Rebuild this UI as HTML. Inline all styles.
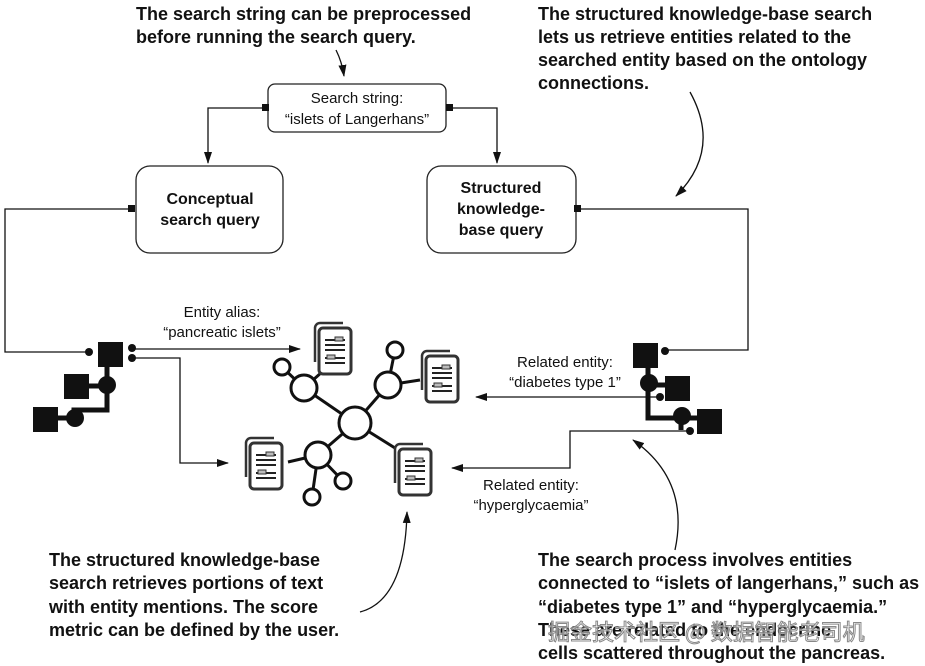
<!DOCTYPE html><html><head><style>body{margin:0;background:#fff}svg{display:block}
.b{font-family:"Liberation Sans",sans-serif;font-weight:bold;font-size:18px;fill:#111}
.n{font-family:"Liberation Sans",sans-serif;font-size:15px;fill:#111}
.nb{font-family:"Liberation Sans",sans-serif;font-weight:bold;font-size:16px;fill:#111}
</style></head><body>
<svg width="925" height="666" viewBox="0 0 925 666" xmlns="http://www.w3.org/2000/svg">
<defs><marker id="a" markerWidth="12" markerHeight="8" refX="11" refY="4" orient="auto" markerUnits="userSpaceOnUse"><path d="M0,0L12,4L0,8z" fill="#111"/></marker>
<g id="doc"><path d="M2,40V6a5,5 0 0 1 5,-5H30" fill="none" stroke="#333" stroke-width="2.5"/><rect x="6" y="6" width="32" height="46" rx="4" fill="#fff" stroke="#333" stroke-width="3"/><g stroke="#222" stroke-width="2"><line x1="12" y1="18" x2="32" y2="18"/><line x1="12" y1="23" x2="32" y2="23"/><line x1="12" y1="28" x2="32" y2="28"/><line x1="12" y1="36" x2="32" y2="36"/><line x1="12" y1="41" x2="32" y2="41"/></g><rect x="22" y="15" width="8" height="4" fill="#bbb" stroke="#333"/><rect x="14" y="33" width="8" height="4" fill="#bbb" stroke="#333"/></g></defs>
<text class="b"><tspan x="136" y="20">The search string can be preprocessed</tspan><tspan x="136" y="43">before running the search query.</tspan></text>
<text class="b"><tspan x="538" y="20">The structured knowledge-base search</tspan><tspan x="538" y="43">lets us retrieve entities related to the</tspan><tspan x="538" y="66">searched entity based on the ontology</tspan><tspan x="538" y="89">connections.</tspan></text>
<g fill="none" stroke="#111" stroke-width="1.3">
<path d="M336,50 Q342,62 344,76" marker-end="url(#a)"/>
<path d="M690,92 Q722,150 676,196" marker-end="url(#a)"/>
<path d="M360,612 Q405,600 407,512" marker-end="url(#a)"/>
<path d="M675,550 Q690,480 633,440" marker-end="url(#a)"/>
<path d="M265,108H208V163" marker-end="url(#a)"/>
<path d="M449,108H497V163" marker-end="url(#a)"/>
<path d="M131,209H5V352H90"/>
<path d="M578,209H748V350H665"/>
<path d="M132,349H300" marker-end="url(#a)"/>
<path d="M132,358H180V463H228" marker-end="url(#a)"/>
<path d="M660,397H476" marker-end="url(#a)"/>
<path d="M690,431H570V468H452" marker-end="url(#a)"/>
</g>
<rect x="268" y="84" width="178" height="48" rx="7" fill="#fff" stroke="#222" stroke-width="1.3"/>
<rect x="262" y="104" width="7" height="7" fill="#111"/><rect x="446" y="104" width="7" height="7" fill="#111"/>
<text class="n" text-anchor="middle"><tspan x="357" y="103">Search string:</tspan><tspan x="357" y="124">“islets of Langerhans”</tspan></text>
<rect x="136" y="166" width="147" height="87" rx="14" fill="#fff" stroke="#222" stroke-width="1.3"/>
<rect x="128" y="205" width="7" height="7" fill="#111"/>
<text class="nb" text-anchor="middle"><tspan x="210" y="204">Conceptual</tspan><tspan x="210" y="225">search query</tspan></text>
<rect x="427" y="166" width="149" height="87" rx="14" fill="#fff" stroke="#222" stroke-width="1.3"/>
<rect x="574" y="205" width="7" height="7" fill="#111"/>
<text class="nb" text-anchor="middle"><tspan x="501" y="193">Structured</tspan><tspan x="501" y="214">knowledge-</tspan><tspan x="501" y="235">base query</tspan></text>
<g fill="#111"><path d="M107,360V410H74V420" fill="none" stroke="#111" stroke-width="5"/>
<path d="M88,386H107" stroke="#111" stroke-width="5"/>
<path d="M56,418H74" stroke="#111" stroke-width="5"/>
<rect x="98" y="342" width="25" height="25"/><rect x="64" y="374" width="25" height="25"/><rect x="33" y="407" width="25" height="25"/>
<circle cx="107" cy="385" r="9"/><circle cx="75" cy="418" r="9"/>
<circle cx="89" cy="352" r="4"/><circle cx="132" cy="348" r="4"/><circle cx="132" cy="358" r="4"/>
</g>
<g fill="#111"><path d="M648,360V418H681V430" fill="none" stroke="#111" stroke-width="5"/>
<path d="M648,385H670M681,418H700" stroke="#111" stroke-width="5"/>
<rect x="633" y="343" width="25" height="25"/><rect x="665" y="376" width="25" height="25"/><rect x="697" y="409" width="25" height="25"/>
<circle cx="649" cy="383" r="9"/><circle cx="682" cy="416" r="9"/>
<circle cx="665" cy="351" r="4"/><circle cx="660" cy="397" r="4"/><circle cx="690" cy="431" r="4"/>
</g>
<text class="n" text-anchor="middle"><tspan x="222" y="317">Entity alias:</tspan><tspan x="222" y="337">“pancreatic islets”</tspan></text>
<text class="n" text-anchor="middle"><tspan x="565" y="367">Related entity:</tspan><tspan x="565" y="387">“diabetes type 1”</tspan></text>
<text class="n" text-anchor="middle"><tspan x="531" y="490">Related entity:</tspan><tspan x="531" y="510">“hyperglycaemia”</tspan></text>
<g stroke="#111" stroke-width="3" fill="#fff">
<line x1="355" y1="423" x2="304" y2="388"/><line x1="304" y1="388" x2="282" y2="367"/><line x1="304" y1="388" x2="322" y2="372"/>
<line x1="355" y1="423" x2="388" y2="385"/><line x1="388" y1="385" x2="395" y2="350"/><line x1="388" y1="385" x2="420" y2="380"/>
<line x1="355" y1="423" x2="318" y2="455"/><line x1="318" y1="455" x2="312" y2="497"/><line x1="318" y1="455" x2="343" y2="481"/><line x1="318" y1="455" x2="288" y2="462"/>
<line x1="355" y1="423" x2="395" y2="448"/>
<circle cx="355" cy="423" r="16"/><circle cx="304" cy="388" r="13"/><circle cx="282" cy="367" r="8"/><circle cx="388" cy="385" r="13"/><circle cx="395" cy="350" r="8"/><circle cx="318" cy="455" r="13"/><circle cx="312" cy="497" r="8"/><circle cx="343" cy="481" r="8"/>
</g>
<use href="#doc" x="313" y="322"/><use href="#doc" x="420" y="350"/><use href="#doc" x="244" y="437"/><use href="#doc" x="393" y="443"/>
<text class="b"><tspan x="49" y="566">The structured knowledge-base</tspan><tspan x="49" y="589">search retrieves portions of text</tspan><tspan x="49" y="613">with entity mentions. The score</tspan><tspan x="49" y="636">metric can be defined by the user.</tspan></text>
<text class="b"><tspan x="538" y="566">The search process involves entities</tspan><tspan x="538" y="589">connected to “islets of langerhans,” such as</tspan><tspan x="538" y="613">“diabetes type 1” and “hyperglycaemia.”</tspan><tspan x="538" y="636">These are related to the endocrine</tspan><tspan x="538" y="659">cells scattered throughout the pancreas.</tspan></text>
<text x="548" y="640" style="font-family:'Noto Sans CJK SC',sans-serif;font-size:22px;fill:#fff;fill-opacity:0.6;stroke:#888;stroke-width:1">掘金技术社区 @ 数据智能老司机</text>
</svg></body></html>
